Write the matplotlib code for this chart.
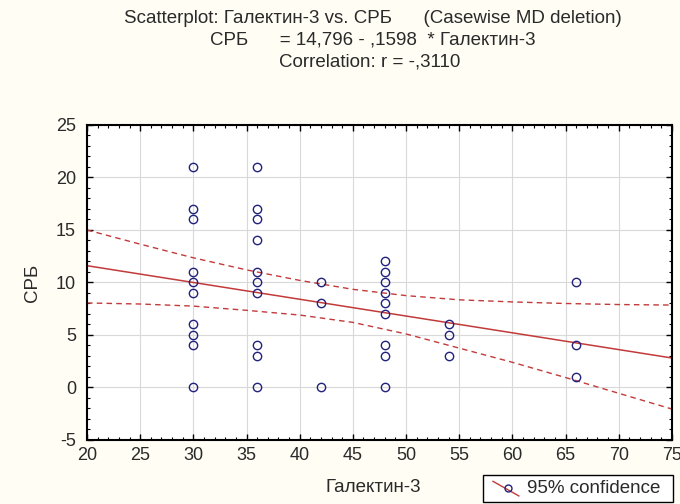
import numpy as np
import matplotlib
matplotlib.use('Agg')
import matplotlib.pyplot as plt
from matplotlib.ticker import MultipleLocator, AutoMinorLocator
from matplotlib.lines import Line2D
from matplotlib.patches import Rectangle

plt.rcParams['font.family'] = ['Liberation Sans', 'DejaVu Sans']
plt.rcParams['axes.unicode_minus'] = False

# points (Галектин-3, СРБ)
gal = [30]*10 + [36]*10 + [42]*3 + [48]*9 + [54]*3 + [66]*3
crp = [21, 17, 16, 11, 10, 9, 6, 5, 4, 0,
       21, 17, 16, 14, 11, 10, 9, 4, 3, 0,
       10, 8, 0,
       12, 11, 10, 9, 8, 7, 4, 3, 0,
       6, 5, 3,
       10, 4, 1]

# regression from the title
b0 = 14.796
b1 = -0.1598

# 95% confidence band
band_x = [20, 25, 30, 35, 40, 45, 50, 55, 60, 65, 70, 75]
band_hi = [15.0, 13.65, 12.35, 11.2, 10.2, 9.35, 8.75, 8.35, 8.15, 8.0, 7.9, 7.85]
band_lo = [8.05, 7.95, 7.75, 7.35, 6.9, 6.2, 5.1, 3.75, 2.4, 0.95, -0.55, -2.05]

BG = '#fffdf4'
RED = '#c23a3a'
NAVY = '#22227a'
TXT = '#2a2a2a'
FS = 13.5

fig = plt.figure(figsize=(6.8, 5.04), dpi=100, facecolor=BG)
ax = fig.add_axes([0.128, 0.127, 0.86, 0.625])
ax.set_facecolor('white')

ax.grid(True, color='#d9d9d9', lw=0.8, zorder=0)
ax.set_axisbelow(True)

xx = np.array([20, 75])
ax.plot(xx, b0 + b1 * xx, color=RED, lw=1.1, zorder=2)
ax.plot(band_x, band_hi, color=RED, lw=1.0, ls=(0, (4, 3)), zorder=2)
ax.plot(band_x, band_lo, color=RED, lw=1.0, ls=(0, (4, 3)), zorder=2)
ax.plot(gal, crp, 'o', ms=6, mfc='none', mec=NAVY, mew=1.0, zorder=3)

ax.set_xlim(20, 75)
ax.set_ylim(-5, 25)
ax.xaxis.set_major_locator(MultipleLocator(5))
ax.yaxis.set_major_locator(MultipleLocator(5))
ax.xaxis.set_minor_locator(AutoMinorLocator(5))
ax.yaxis.set_minor_locator(AutoMinorLocator(5))
ax.tick_params(which='both', direction='in', top=True, right=True,
               color='black', labelsize=FS - 0.5, labelcolor=TXT)
ax.tick_params(which='major', length=4, width=1)
ax.tick_params(which='minor', length=2, width=0.8)
ax.tick_params(axis='y', pad=8)
ax.tick_params(axis='x', pad=5)
for s in ax.spines.values():
    s.set_linewidth(1.5)
    s.set_color('black')

ax.set_xlabel('Галектин-3', fontsize=FS, color=TXT)
ax.set_ylabel('СРБ', fontsize=FS, color=TXT)
ax.xaxis.label.set_va('center')
ax.yaxis.label.set_va('center')
ax.xaxis.set_label_coords(0.49, -0.152)
ax.yaxis.set_label_coords(-0.094, 0.5)

fig.text(0.549, 0.963, 'Scatterplot: Галектин-3 vs. СРБ      (Casewise MD deletion)',
         ha='center', va='center', fontsize=FS, color=TXT)
fig.text(0.548, 0.920, 'СРБ      = 14,796 - ,1598  * Галектин-3',
         ha='center', va='center', fontsize=FS, color=TXT)
fig.text(0.543, 0.877, 'Correlation: r = -,3110',
         ha='center', va='center', fontsize=FS, color=TXT)

# legend box below the axes
fig.add_artist(Rectangle((0.710, 0.004), 0.280, 0.0535, transform=fig.transFigure,
                         fc='white', ec='black', lw=1.0))
fig.text(0.775, 0.031, '95% confidence', ha='left', va='center', fontsize=FS,
         color=TXT)
fig.add_artist(Line2D([0.725, 0.763], [0.045, 0.016], transform=fig.transFigure,
                      color=RED, lw=1.0))
fig.add_artist(Line2D([0.747], [0.031], transform=fig.transFigure, marker='o',
                      ms=5, mfc='none', mec=NAVY, mew=1.0))

fig.savefig('out.png', dpi=100, facecolor=BG)
